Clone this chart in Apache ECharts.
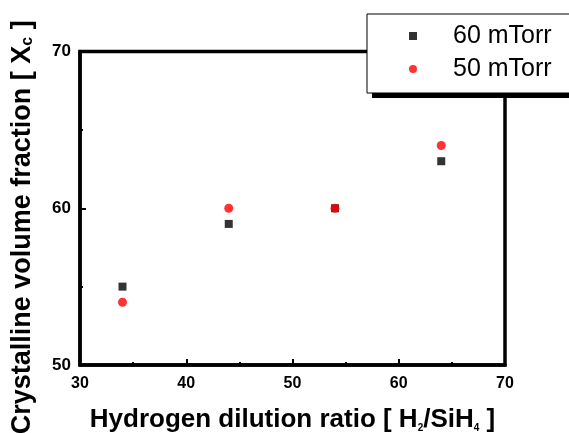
<!DOCTYPE html>
<html>
<head>
<meta charset="utf-8">
<script src="https://cdn.jsdelivr.net/npm/echarts@6/dist/echarts.min.js"></script>
<style>html,body{margin:0;padding:0;background:#fff;}#c{width:569px;height:433px;}</style>
</head>
<body>
<div id="c"></div>
<script>
const seriesNames = ['60 mTorr', '50 mTorr'];
const ratio = [34, 44, 54, 64];
const xc60 = [55, 59, 60, 63];
const xc50 = [54, 60, 60, 64];
const xTicks = [30, 40, 50, 60, 70];
const yTicks = [50, 60, 70];

const FONT = 'Arial, "Liberation Sans", sans-serif';
const chart = echarts.init(document.getElementById('c'));
const axisCommon = {
  axisLine: {show: true, lineStyle: {color: '#000', width: 3.5}},
  axisTick: {show: true, inside: true, length: 6, lineStyle: {color: '#000', width: 2}},
  minorTick: {show: true, splitNumber: 2, length: 3, lineStyle: {color: '#000', width: 2}},
  splitLine: {show: false},
  axisLabel: {color: '#000', fontFamily: FONT, fontWeight: 'bold', fontSize: 16}
};
chart.setOption({
  animation: false,
  backgroundColor: '#fff',
  grid: {left: 80, right: 64, top: 51.5, bottom: 68, show: true, borderColor: '#000', borderWidth: 3.5,
    outerBoundsMode: 'none', containLabel: false},
  xAxis: Object.assign({}, axisCommon, {
    type: 'value', min: xTicks[0], max: xTicks[xTicks.length - 1], interval: 10,
    axisLabel: Object.assign({}, axisCommon.axisLabel, {margin: 11}),
    name: 'Hydrogen dilution ratio [ H{s|2}/SiH{s|4} ]',
    nameLocation: 'middle', nameGap: 42,
    nameTextStyle: {color: '#000', fontFamily: FONT, fontWeight: 'bold', fontSize: 26,
      rich: {s: {fontSize: 10, fontWeight: 'bold', fontFamily: FONT, color: '#000', verticalAlign: 'bottom', padding: [12, 0, 0, 0]}}}
  }),
  yAxis: Object.assign({}, axisCommon, {
    type: 'value', min: yTicks[0], max: yTicks[yTicks.length - 1], interval: 10,
    axisLabel: Object.assign({}, axisCommon.axisLabel, {margin: 9, fontSize: 17}),
    name: 'Crystalline volume fraction [ X{s|c} ]',
    nameLocation: 'middle', nameGap: 44, nameRotate: 90,
    nameTextStyle: {color: '#000', fontFamily: FONT, fontWeight: 'bold', fontSize: 27, padding: [0, 38, 0, 0],
      rich: {s: {fontSize: 16, fontWeight: 'bold', fontFamily: FONT, color: '#000', verticalAlign: 'bottom', padding: [10, 0, 0, 0]}}}
  }),
  graphic: [{
    type: 'rect', z: 5, silent: true,
    shape: {x: 372, y: 19, width: 300, height: 79},
    style: {fill: '#000'}
  }],
  legend: {
    orient: 'vertical', left: 367, top: 14, z: 10,
    backgroundColor: '#fff', borderColor: '#000', borderWidth: 1,
    padding: [9.5, 80, 11.5, 42],
    itemWidth: 8, itemHeight: 8, itemGap: 8,
    textStyle: {color: '#000', fontFamily: FONT, fontSize: 25, lineHeight: 25, padding: [0, 0, 0, 31]},
    data: [{name: seriesNames[0], icon: 'rect'}, {name: seriesNames[1], icon: 'circle', itemStyle: {color: '#ff0000'}}]
  },
  series: [
    {name: seriesNames[0], type: 'scatter', symbol: 'rect', symbolSize: 8, itemStyle: {color: '#000'},
      data: ratio.map((x, i) => [x, xc60[i]]), z: 3},
    {name: seriesNames[1], type: 'scatter', symbol: 'circle', symbolSize: 9, itemStyle: {color: '#ff0000'},
      data: ratio.map((x, i) => [x, xc50[i]]), z: 4}
  ]
});
</script>
</body>
</html>
